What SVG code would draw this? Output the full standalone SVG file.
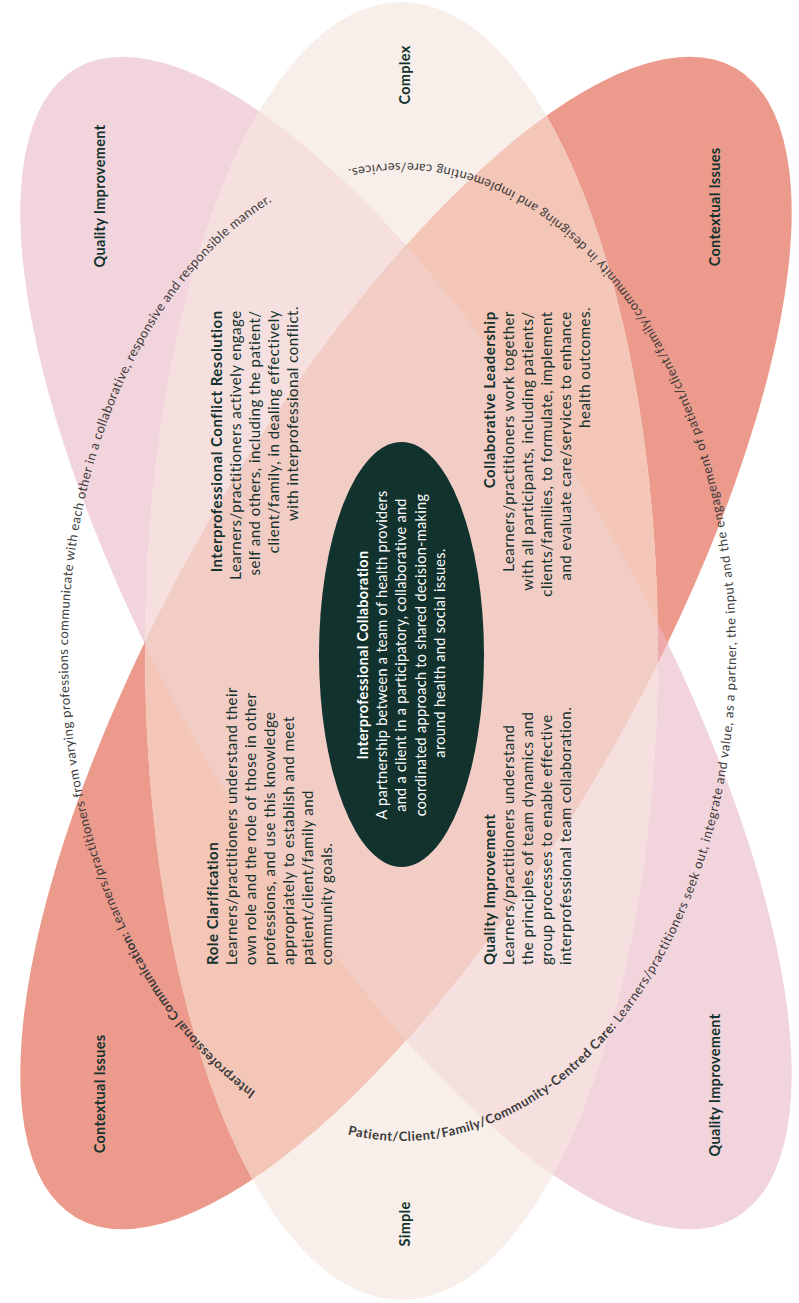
<svg xmlns="http://www.w3.org/2000/svg" xmlns:xlink="http://www.w3.org/1999/xlink" width="799" height="1303" viewBox="0 0 799 1303">
<style>
.t{font-family:Lato,"Open Sans","Liberation Sans",sans-serif;font-size:15px;letter-spacing:0.5px;fill:#12322d}
.w{fill:#ffffff;font-size:14.5px;letter-spacing:0.3px}
.b{font-weight:700}
.lab{font-family:Lato,"Open Sans","Liberation Sans",sans-serif;font-size:14.5px;letter-spacing:0.3px;font-weight:700;fill:#12322d}
.arc{font-family:Lato,"Open Sans","Liberation Sans",sans-serif;font-size:13px;fill:#3b3b3b}
</style>
<defs>
<ellipse id="eP" rx="231.5" ry="662.5" transform="translate(406 643) rotate(-29.8)"/>
<ellipse id="eS" rx="231.5" ry="662.5" transform="translate(406 643) rotate(29.8)"/>
<ellipse id="eC" cx="401.5" cy="651" rx="256.5" ry="649"/>
<clipPath id="cP"><ellipse rx="231.5" ry="662.5" transform="translate(406 643) rotate(-29.8)"/></clipPath>
<clipPath id="cS"><ellipse rx="231.5" ry="662.5" transform="translate(406 643) rotate(29.8)"/></clipPath>
<path id="pathL" d="M 402,1141 A 334,489 0 0 1 68,652 A 334,489 0 0 1 402,163 A 334,489 0 0 1 736,652 A 334,489 0 0 1 402,1141"/>
<path id="pathR" d="M 68,652 A 334,489 0 0 0 402,1141 A 334,489 0 0 0 736,652 A 334,489 0 0 0 402,163 A 334,489 0 0 0 68,652"/>
</defs>
<rect width="799" height="1303" fill="#ffffff"/>
<g id="shapes">
<use href="#eP" fill="#f2d4dc"/>
<use href="#eS" fill="#ec9a8c"/>
<g clip-path="url(#cP)"><use href="#eS" fill="#eeabae"/></g>
<use href="#eC" fill="#f9efea"/>
<g clip-path="url(#cP)"><use href="#eC" fill="#f5dfdf"/></g>
<g clip-path="url(#cS)"><use href="#eC" fill="#f3c6b7"/></g>
<g clip-path="url(#cP)"><g clip-path="url(#cS)"><use href="#eC" fill="#f2cdc6"/></g></g>
</g>
<g id="center">
<ellipse cx="401.5" cy="654.5" rx="82.5" ry="212.5" fill="#12322d"/>
<text class="t w" transform="translate(368 653) rotate(-90)" text-anchor="middle">
<tspan x="0" y="0" class="b">Interprofessional Collaboration</tspan>
<tspan x="0" dy="19.2">A partnership between a team of health providers</tspan>
<tspan x="0" dy="19.2">and a client in a participatory, collaborative and</tspan>
<tspan x="0" dy="19.2">coordinated approach to shared decision-making</tspan>
<tspan x="0" dy="19.2">around health and social issues.</tspan>
</text>
</g>
<g id="conflict">
<text class="t" transform="translate(222 306) rotate(-90)" text-anchor="end">
<tspan x="0" y="0" class="b">Interprofessional Conflict Resolution</tspan>
<tspan x="0" dy="19">Learners/practitioners actively engage</tspan>
<tspan x="0" dy="19">self and others, including the patient/</tspan>
<tspan x="0" dy="19">client/family, in dealing effectively</tspan>
<tspan x="0" dy="19">with interprofessional conflict.</tspan>
</text>
</g>
<g id="leadership">
<text class="t" transform="translate(495 307) rotate(-90)" text-anchor="end">
<tspan x="0" y="0" class="b">Collaborative Leadership</tspan>
<tspan x="0" dy="19">Learners/practitioners work together</tspan>
<tspan x="0" dy="19">with all participants, including patients/</tspan>
<tspan x="0" dy="19">clients/families, to formulate, implement</tspan>
<tspan x="0" dy="19">and evaluate care/services to enhance</tspan>
<tspan x="0" dy="19">health outcomes.</tspan>
</text>
</g>
<g id="role">
<text class="t" transform="translate(218 965) rotate(-90)">
<tspan x="0" y="0" class="b">Role Clarification</tspan>
<tspan x="0" dy="19">Learners/practitioners understand their</tspan>
<tspan x="0" dy="19">own role and the role of those in other</tspan>
<tspan x="0" dy="19">professions, and use this knowledge</tspan>
<tspan x="0" dy="19">appropriately to establish and meet</tspan>
<tspan x="0" dy="19">patient/client/family and</tspan>
<tspan x="0" dy="19">community goals.</tspan>
</text>
</g>
<g id="quality">
<text class="t" transform="translate(495 965) rotate(-90)">
<tspan x="0" y="0" class="b">Quality Improvement</tspan>
<tspan x="0" dy="19">Learners/practitioners understand</tspan>
<tspan x="0" dy="19">the principles of team dynamics and</tspan>
<tspan x="0" dy="19">group processes to enable effective</tspan>
<tspan x="0" dy="19">interprofessional team collaboration.</tspan>
</text>
</g>
<g id="labels">
<text class="lab" transform="translate(105 196) rotate(-90)" text-anchor="middle">Quality Improvement</text>
<text class="lab" transform="translate(410 75) rotate(-90)" text-anchor="middle">Complex</text>
<text class="lab" transform="translate(720 207) rotate(-90)" text-anchor="middle">Contextual Issues</text>
<text class="lab" transform="translate(105 1094) rotate(-90)" text-anchor="middle">Contextual Issues</text>
<text class="lab" transform="translate(410 1224) rotate(-90)" text-anchor="middle">Simple</text>
<text class="lab" transform="translate(720 1085) rotate(-90)" text-anchor="middle">Quality Improvement</text>
</g>
<g id="arc-texts">
<text class="arc" letter-spacing="0.37"><textPath href="#pathL" startOffset="662" text-anchor="middle"><tspan class="b">Interprofessional Communication:</tspan> Learners/practitioners from varying professions communicate with each other in a collaborative, responsive and responsible manner.</textPath></text>
<text class="arc" letter-spacing="0.55"><textPath href="#pathR" startOffset="1304" text-anchor="middle"><tspan class="b">Patient/Client/Family/Community-Centred Care:</tspan> Learners/practitioners seek out, integrate and value, as a partner, the input and the engagement of patient/client/family/community in designing and implementing care/services.</textPath></text>
</g>
</svg>
